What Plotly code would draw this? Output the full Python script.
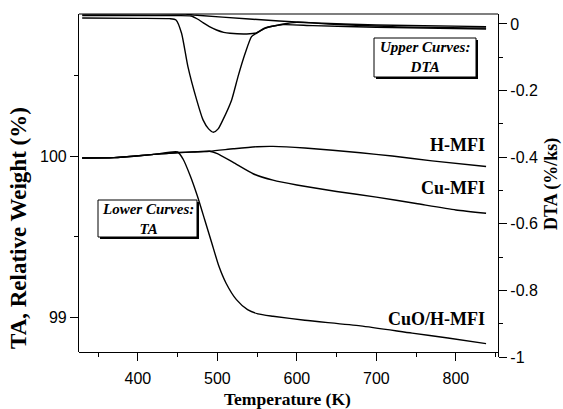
import plotly.graph_objects as go

# ---- data ----
# TA curves (left axis, relative weight %)
ta_h_T = [330, 370, 420, 450, 490, 520, 550, 570, 610, 680, 720, 770, 838]
ta_h_v = [99.988, 99.99, 100.01, 100.022, 100.03, 100.045, 100.058, 100.06, 100.05, 100.02, 100.0, 99.97, 99.935]

ta_cu_T = [330, 370, 420, 450, 470, 490, 500, 520, 545, 570, 600, 650, 700, 750, 800, 838]
ta_cu_v = [99.988, 99.99, 100.01, 100.02, 100.025, 100.03, 100.015, 99.96, 99.89, 99.85, 99.82, 99.78, 99.745, 99.705, 99.665, 99.645]

ta_cuo_T = [330, 370, 420, 450, 457, 466, 475, 484, 493, 502, 511, 524, 538, 551, 570, 610, 680, 745, 790, 838]
ta_cuo_v = [99.988, 99.99, 100.01, 100.025, 99.98, 99.876, 99.75, 99.606, 99.46, 99.315, 99.21, 99.108, 99.046, 99.02, 99.005, 98.98, 98.945, 98.9, 98.87, 98.835]

# DTA curves (right axis, %/ks)
dta_cuo_T = [330, 400, 440, 448, 455, 463, 474, 482, 489, 495, 501, 507, 518, 526, 535, 543, 549, 560, 583, 620, 700, 838]
dta_cuo_v = [0.018, 0.017, 0.016, 0.012, -0.028, -0.128, -0.228, -0.288, -0.315, -0.325, -0.315, -0.288, -0.228, -0.158, -0.088, -0.038, -0.028, -0.012, -0.002, -0.005, -0.01, -0.015]

dta_cu_T = [330, 440, 467, 475, 482, 490, 499, 508, 516, 537, 549, 560, 583, 600, 640, 720, 838]
dta_cu_v = [0.025, 0.025, 0.024, 0.015, 0.004, -0.008, -0.018, -0.025, -0.028, -0.030, -0.027, -0.013, 0.0, 0.005, 0.0, -0.008, -0.012]

dta_h_T = [330, 460, 470, 540, 615, 700, 838]
dta_h_v = [0.03, 0.03, 0.027, 0.015, 0.004, -0.003, -0.008]

x_ticks = [400, 500, 600, 700, 800]
left_ticks = [99, 100]
right_ticks = [0, -0.2, -0.4, -0.6, -0.8, -1]
right_ticktext = ["0", "-0.2", "-0.4", "-0.6", "-0.8", "-1"]

curve_labels = ["H-MFI", "Cu-MFI", "CuO/H-MFI"]
curve_label_y = [100.07, 99.80, 98.99]

# ---- figure ----
W, H = 563, 409
L, R, T, B = 79, 65, 14, 52
pw, ph = W - L - R, H - T - B


def px(xp):
    return (xp - L) / pw


def py(yp):
    return (H - B - yp) / ph


line = dict(color="black", width=1.4)
fig = go.Figure()
for xs, ys in [(ta_h_T, ta_h_v), (ta_cu_T, ta_cu_v), (ta_cuo_T, ta_cuo_v)]:
    fig.add_trace(go.Scatter(x=xs, y=ys, mode="lines", line=dict(line, shape="spline", smoothing=0.6),
                             xaxis="x", yaxis="y", showlegend=False, hoverinfo="skip"))
for xs, ys in [(dta_h_T, dta_h_v), (dta_cu_T, dta_cu_v), (dta_cuo_T, dta_cuo_v)]:
    fig.add_trace(go.Scatter(x=xs, y=ys, mode="lines", line=dict(line, shape="spline", smoothing=0.6),
                             xaxis="x", yaxis="y2", showlegend=False, hoverinfo="skip"))

tickfont = dict(family="Liberation Sans, Arial, sans-serif", size=16, color="black")
serif = "Liberation Serif, Times New Roman, serif"
bottom_pos = py(352)

fig.update_layout(
    width=W, height=H, autosize=False,
    margin=dict(l=L, r=R, t=T, b=B, pad=0),
    paper_bgcolor="white", plot_bgcolor="rgba(0,0,0,0)",
    xaxis=dict(range=[326, 853], anchor="free", position=bottom_pos,
               tickvals=x_ticks, ticks="outside", ticklen=8, tickwidth=1, tickcolor="black",
               minor=dict(dtick=50, tick0=0, ticks="outside", ticklen=4, tickcolor="black"),
               showline=True, linecolor="black", linewidth=1.2, showgrid=False, zeroline=False,
               tickfont=tickfont, ticklabelstandoff=4),
    yaxis=dict(range=[98.783, 100.882], domain=[bottom_pos, 1], anchor="x",
               tickvals=left_ticks, ticks="outside", ticklen=8, tickcolor="black",
               minor=dict(dtick=0.5, tick0=0, ticks="outside", ticklen=4, tickcolor="black"),
               showline=True, linecolor="black", linewidth=1.2, showgrid=False, zeroline=False,
               tickfont=tickfont),
    yaxis2=dict(range=[-1, 0.030], domain=[0, 1], anchor="x", side="right",
                tickvals=right_ticks, ticktext=right_ticktext, ticks="outside", ticklen=8, tickcolor="black",
                minor=dict(dtick=0.1, tick0=0, ticks="outside", ticklen=4, tickcolor="black"),
                showline=True, linecolor="black", linewidth=1.2, showgrid=False, zeroline=False,
                tickfont=tickfont),
)

shapes = [dict(type="line", xref="paper", yref="paper", x0=0, x1=1, y0=1, y1=1,
               line=dict(color="black", width=1.2))]
for (x0, y0, x1, y1) in [(374, 38, 476, 77), (98, 200, 197, 237)]:
    shapes.append(dict(type="rect", xref="paper", yref="paper", x0=px(x0 + 2), x1=px(x1 + 2),
                       y0=py(y1 + 2), y1=py(y0 + 2), fillcolor="black", line=dict(width=0)))
    shapes.append(dict(type="rect", xref="paper", yref="paper", x0=px(x0), x1=px(x1),
                       y0=py(y1), y1=py(y0), fillcolor="white", line=dict(color="black", width=1)))
fig.update_layout(shapes=shapes)

ann = []
boxfont = dict(family=serif, size=15, color="black")
ann.append(dict(xref="paper", yref="paper", x=px(425), y=py(57.5), text="<b><i>Upper Curves:<br>DTA</i></b>",
                showarrow=False, font=boxfont, xanchor="center", yanchor="middle"))
ann.append(dict(xref="paper", yref="paper", x=px(147.5), y=py(218.5), text="<b><i>Lower Curves:<br>TA</i></b>",
                showarrow=False, font=boxfont, xanchor="center", yanchor="middle"))
for t, yv in zip(curve_labels, curve_label_y):
    ann.append(dict(xref="x", yref="y", x=839, y=yv, text="<b>" + t + "</b>", showarrow=False,
                    font=dict(family=serif, size=18, color="black"), xanchor="right", yanchor="middle"))
ann.append(dict(xref="paper", yref="paper", x=px(18), y=py(228), text="<b>TA, Relative Weight (%)</b>",
                textangle=-90, showarrow=False, font=dict(family=serif, size=23, color="black"),
                xanchor="center", yanchor="middle"))
ann.append(dict(xref="paper", yref="paper", x=px(551), y=py(184), text="<b>DTA (%/ks)</b>",
                textangle=-90, showarrow=False, font=dict(family=serif, size=18, color="black"),
                xanchor="center", yanchor="middle"))
ann.append(dict(xref="paper", yref="paper", x=px(287), y=py(399), text="<b>Temperature (K)</b>",
                showarrow=False, font=dict(family=serif, size=17.5, color="black"),
                xanchor="center", yanchor="middle"))
fig.update_layout(annotations=ann)

fig.write_html("out.html", config={"displayModeBar": False},
               post_script="document.body.style.margin='0';document.body.style.padding='0';")
